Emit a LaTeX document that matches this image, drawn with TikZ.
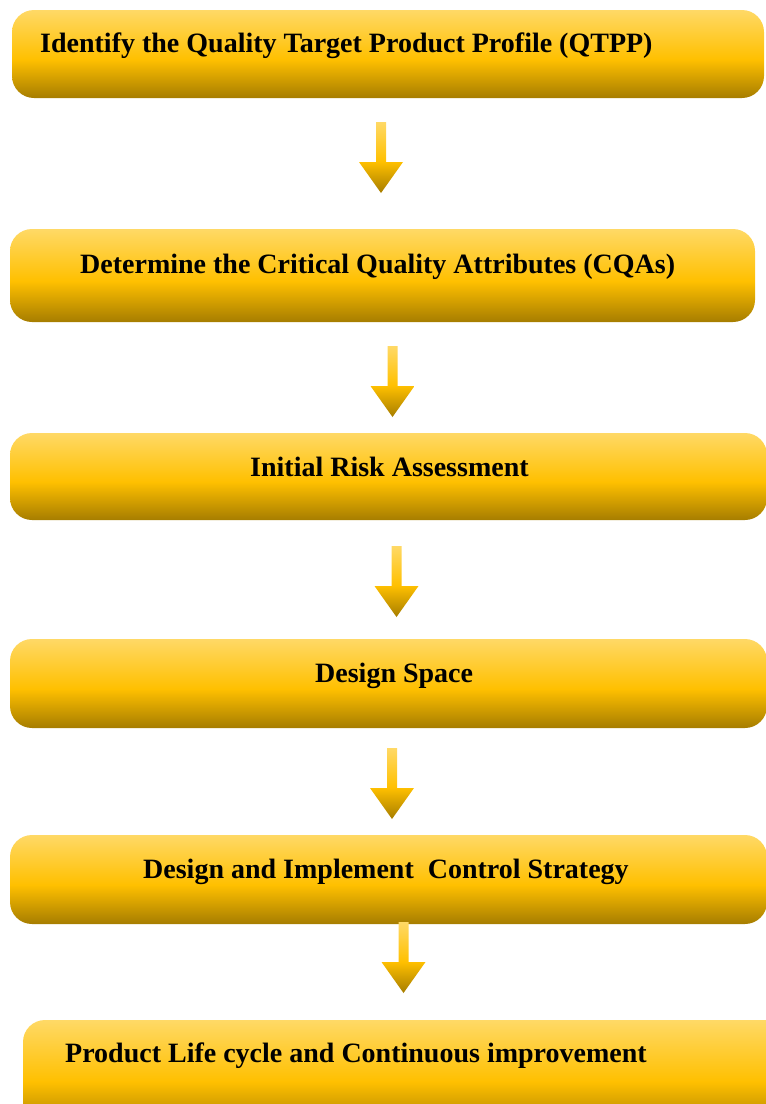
\documentclass[tikz,border=0pt]{standalone}
\usepackage{fontspec}
\setmainfont{Liberation Serif}
\definecolor{goldlight}{HTML}{FFD966}
\definecolor{goldmid}{HTML}{FFC000}
\definecolor{golddark}{HTML}{A67D00}
\pgfdeclareverticalshading{gold}{100bp}{color(0bp)=(golddark); color(25bp)=(golddark); color(47bp)=(goldmid); color(75bp)=(goldlight); color(100bp)=(goldlight)}
\begin{document}
\begin{tikzpicture}[x=1pt,y=-1pt,
  box/.style={shading=gold, rounded corners=22pt, inner sep=0pt, draw=none},
  txt/.style={font=\bfseries\fontsize{28}{30}\selectfont, anchor=base west, inner sep=0pt, text=black},
  pics/blockarrow/.style={code={\shade[shading=gold] (-5,0) -- (5,0) -- (5,40) -- (22,40) -- (0,71) -- (-22,40) -- (-5,40) -- cycle;}}]
\useasboundingbox (0,0) rectangle (766,1104);
\clip (0,0) rectangle (766,1104);
% boxes
\node[box, minimum width=752pt, minimum height=88pt] (b1) at (388,54) {};
\node[box, minimum width=745pt, minimum height=93pt] (b2) at (382.5,275.5) {};
\node[box, minimum width=757pt, minimum height=87pt] (b3) at (388.5,476.5) {};
\node[box, minimum width=757pt, minimum height=89pt] (b4) at (388.5,683.5) {};
\node[box, minimum width=757pt, minimum height=89pt] (b5) at (388.5,879.5) {};
\node[box, minimum width=767pt, minimum height=110pt] (b6) at (406.5,1075) {};
% texts
\node[txt] (t1) at (40,52) {Identify the Quality Target Product Profile (QTPP)};
\node[txt] (t2) at (80,273) {Determine the Critical Quality Attributes (CQAs)};
\node[txt] (t3) at (250,476) {Initial Risk Assessment};
\node[txt] (t4) at (315,682) {Design Space};
\node[txt] (t5) at (143,878) {Design and Implement~ Control Strategy};
\node[txt] (t6) at (65,1062) {Product Life cycle and Continuous improvement};
% arrows
\coordinate (a1) at (381,122);
\coordinate (a2) at (392.5,346);
\coordinate (a3) at (396.5,546);
\coordinate (a4) at (392,748);
\coordinate (a5) at (403.5,922);
\pic at (a1) {blockarrow};
\pic at (a2) {blockarrow};
\pic at (a3) {blockarrow};
\pic at (a4) {blockarrow};
\pic at (a5) {blockarrow};
\end{tikzpicture}
\end{document}
